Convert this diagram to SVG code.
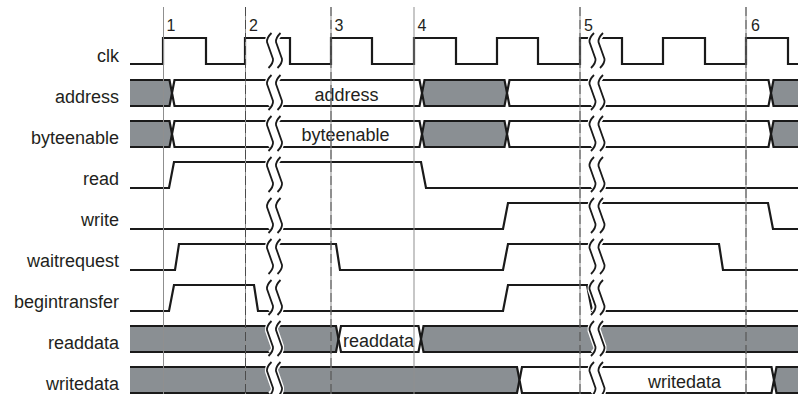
<svg xmlns="http://www.w3.org/2000/svg" xmlns:xlink="http://www.w3.org/1999/xlink" width="798" height="394" viewBox="0 0 798 394">
<style>
.lbl{font-family:"Liberation Sans",Arial,sans-serif;font-size:18px;fill:#231f20;text-anchor:end}
.in{font-family:"Liberation Sans",Arial,sans-serif;font-size:18px;fill:#231f20;text-anchor:middle}
.num{font-family:"Liberation Sans",Arial,sans-serif;font-size:16px;fill:#231f20}
.sig{fill:none;stroke:#1a1a1a;stroke-width:2.2;stroke-linejoin:miter}
.g{fill:#8a8f93;stroke:#1a1a1a;stroke-width:2.2}
.w{fill:#ffffff;stroke:#1a1a1a;stroke-width:2.2}
.grid{stroke:#8f8f8f;stroke-width:1}
.gridd{stroke:#3a3a3a;stroke-width:0.8;stroke-dasharray:9 4}
</style>
<defs>
<path id="sq" d="M1.5,0 Q-3.5,5 -3,9 L3,26 Q3.5,30 -1.5,35"/>
<g id="brk">
<use href="#sq" x="4.5" fill="none" stroke="#ffffff" stroke-width="13"/>
<use href="#sq" x="0" fill="none" stroke="#1a1a1a" stroke-width="1.8"/>
<use href="#sq" x="9" fill="none" stroke="#1a1a1a" stroke-width="1.8"/>
</g>
</defs>
<rect width="798" height="394" fill="#ffffff"/>

<g id="labels">
<text class="lbl" x="119" y="62">clk</text>
<text class="lbl" x="119" y="103">address</text>
<text class="lbl" x="119" y="144">byteenable</text>
<text class="lbl" x="119" y="185">read</text>
<text class="lbl" x="119" y="226">write</text>
<text class="lbl" x="119" y="267">waitrequest</text>
<text class="lbl" x="119" y="308">begintransfer</text>
<text class="lbl" x="119" y="349">readdata</text>
<text class="lbl" x="119" y="390">writedata</text>
</g>

<g id="clk">
<path class="sig" d="M130,64 H163 V38 H206 V64 H245 V38 H290 V64 H331 V38 H372 V64 H414 V38 H456 V64 H497 V38 H538 V64 H580 V38 H622 V64 H663 V38 H705 V64 H746 V38 H788 V64 H800"/>
</g>

<g id="address">
<path class="g" d="M130,80 H169.5 L172,93 L169.5,106 H130"/>
<path class="w" d="M174.5,80 H419.5 L422,93 L419.5,106 H174.5 L172,93 Z"/>
<path class="g" d="M424.5,80 H504.5 L507,93 L504.5,106 H424.5 L422,93 Z"/>
<path class="w" d="M509.5,80 H768.5 L771,93 L768.5,106 H509.5 L507,93 Z"/>
<path class="g" d="M800,80 H773.5 L771,93 L773.5,106 H800"/>
<text class="in" x="346.5" y="100.5">address</text>
</g>

<g id="byteenable">
<path class="g" d="M130,121 H169.5 L172,134 L169.5,147 H130"/>
<path class="w" d="M174.5,121 H419.5 L422,134 L419.5,147 H174.5 L172,134 Z"/>
<path class="g" d="M424.5,121 H504.5 L507,134 L504.5,147 H424.5 L422,134 Z"/>
<path class="w" d="M509.5,121 H768.5 L771,134 L768.5,147 H509.5 L507,134 Z"/>
<path class="g" d="M800,121 H773.5 L771,134 L773.5,147 H800"/>
<text class="in" x="345.5" y="141">byteenable</text>
</g>

<g id="read">
<path class="sig" d="M130,188 H169 L174,162 H421 L426,188 H800"/>
</g>

<g id="write">
<path class="sig" d="M130,229 H503 L508,203 H768 L773,229 H800"/>
</g>

<g id="waitrequest">
<path class="sig" d="M130,270 H175 L179,244 H336 L340,270 H503 L508,244 H719 L723,270 H800"/>
</g>

<g id="begintransfer">
<path class="sig" d="M130,311 H169 L174,285 H254 L258,311 H503 L508,285 H587 L592,311 H800"/>
</g>

<g id="readdata">
<path class="g" d="M130,326 H336 L338.5,339 L336,352 H130"/>
<path class="w" d="M341,326 H418.5 L421,339 L418.5,352 H341 L338.5,339 Z"/>
<path class="g" d="M800,326 H423.5 L421,339 L423.5,352 H800"/>
<text class="in" x="378.5" y="346.5">readdata</text>
</g>

<g id="writedata">
<path class="g" d="M130,367 H517 L519.5,380 L517,393 H130"/>
<path class="w" d="M522,367 H771.5 L774,380 L771.5,393 H522 L519.5,380 Z"/>
<path class="g" d="M800,367 H776.5 L774,380 L776.5,393 H800"/>
<text class="in" x="684.5" y="387.5">writedata</text>
</g>

<g id="breaks">
<use href="#brk" x="270" y="33"/>
<use href="#brk" x="270" y="75"/>
<use href="#brk" x="270" y="116"/>
<use href="#brk" x="270" y="157"/>
<use href="#brk" x="270" y="198"/>
<use href="#brk" x="270" y="239"/>
<use href="#brk" x="270" y="280"/>
<use href="#brk" x="270" y="321"/>
<use href="#brk" x="270" y="362"/>
<use href="#brk" x="592.5" y="33"/>
<use href="#brk" x="592.5" y="75"/>
<use href="#brk" x="592.5" y="116"/>
<use href="#brk" x="592.5" y="157"/>
<use href="#brk" x="592.5" y="198"/>
<use href="#brk" x="592.5" y="239"/>
<use href="#brk" x="592.5" y="280"/>
<use href="#brk" x="592.5" y="321"/>
<use href="#brk" x="592.5" y="362"/>
</g>

<g id="gridlines">
<line class="grid" x1="163.5" y1="7" x2="163.5" y2="394"/>
<line class="grid" x1="245.5" y1="7" x2="245.5" y2="394"/>
<line class="grid" x1="331" y1="7" x2="331" y2="394"/>
<line class="grid" x1="414" y1="7" x2="414" y2="394"/>
<line class="grid" x1="580" y1="7" x2="580" y2="394"/>
<line class="grid" x1="746" y1="7" x2="746" y2="394"/>
<line class="gridd" x1="245.5" y1="7" x2="245.5" y2="394"/>
<line class="gridd" x1="331" y1="7" x2="331" y2="394"/>
<line class="gridd" x1="580" y1="7" x2="580" y2="394"/>
<line class="gridd" x1="746" y1="7" x2="746" y2="394"/>
</g>

<g id="cycles">
<text class="num" x="166.5" y="31">1</text>
<text class="num" x="249" y="31">2</text>
<text class="num" x="334.5" y="31">3</text>
<text class="num" x="417.5" y="31">4</text>
<text class="num" x="584" y="31">5</text>
<text class="num" x="751" y="31">6</text>
</g>
</svg>
